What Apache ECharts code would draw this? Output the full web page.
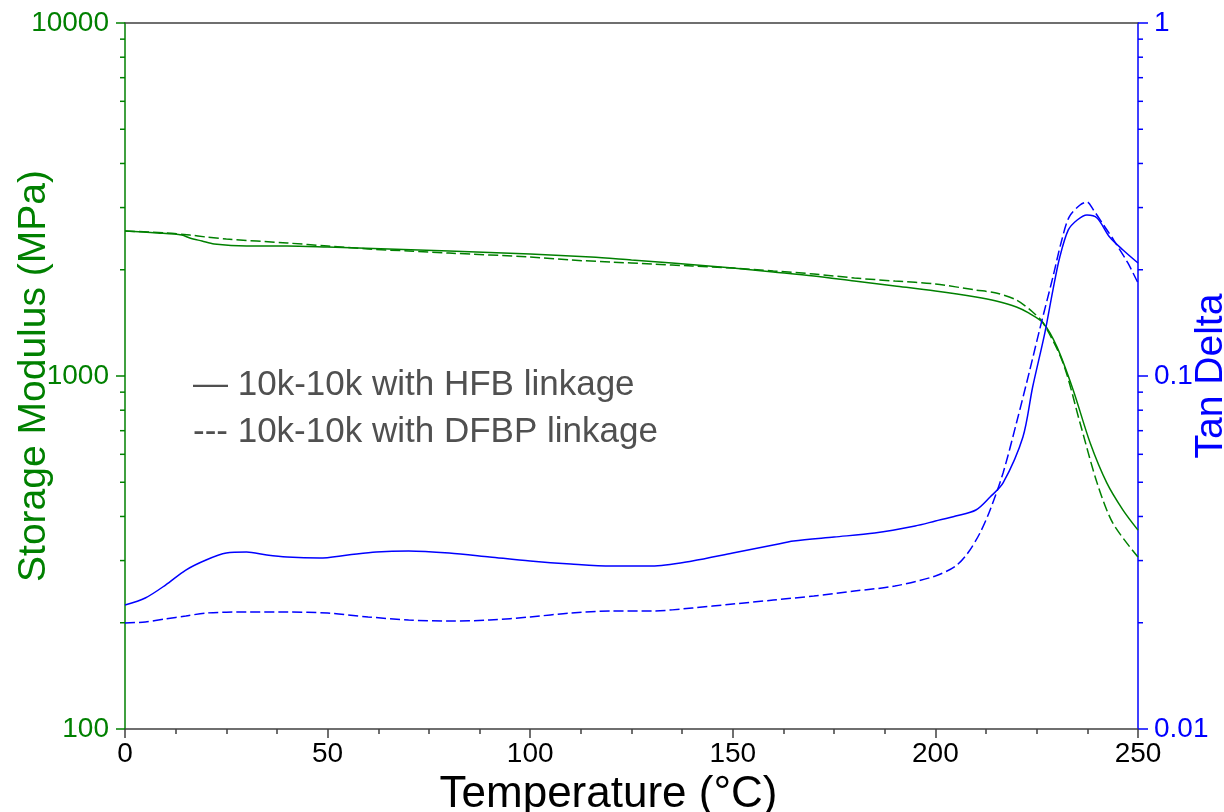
<!DOCTYPE html>
<html>
<head>
<meta charset="utf-8">
<script src="https://cdn.jsdelivr.net/npm/echarts@6/dist/echarts.min.js"></script>
<style>html,body{margin:0;padding:0;background:#fff}#c{width:1224px;height:812px}</style>
</head>
<body>
<div id="c"></div>
<script>
// ---- data ----
// Storage modulus, 10k-10k with HFB linkage (solid)
var hfbModT   = [0, 8, 14, 16, 19, 22, 30, 40, 50, 65, 80, 100, 115, 125, 135, 150, 160, 170, 180, 190, 200, 210, 215, 220, 223, 226.6, 230, 234, 238.2, 242.3, 246.3, 250];
var hfbModVal = [2576, 2542, 2508, 2460, 2412, 2365, 2335, 2335, 2319, 2290, 2260, 2216, 2173, 2131, 2090, 2022, 1971, 1920, 1858, 1799, 1741, 1674, 1631, 1569, 1509, 1413, 1209, 913, 646, 498, 417, 366];
// Storage modulus, 10k-10k with DFBP linkage (dashed)
var dfbpModT   = [0, 10, 16, 20, 25, 40, 50, 60, 70, 80, 100, 110, 120, 130, 140, 150, 160, 170, 180, 190, 200, 210, 215, 220, 224, 226.6, 231.5, 235.7, 239.9, 243.8, 250];
var dfbpModVal = [2576, 2542, 2508, 2476, 2444, 2381, 2335, 2290, 2260, 2230, 2173, 2131, 2103, 2076, 2049, 2022, 1984, 1945, 1895, 1858, 1822, 1752, 1718, 1642, 1518, 1413, 1089, 736, 498, 383, 307];
// Tan delta, HFB (solid)
var hfbTanT   = [0, 5, 10, 15, 20, 25, 30, 35, 40, 48, 55, 62, 70, 80, 90, 100, 110, 120, 130, 140, 150, 160, 165, 175, 185, 195, 200, 205, 210, 213.5, 216.7, 221.6, 224, 227, 229, 230.7, 232.8, 235, 237.4, 239.9, 243, 246.3, 250];
var hfbTanVal = [0.02245, 0.0235, 0.02557, 0.0282, 0.03012, 0.03151, 0.03172, 0.03111, 0.03071, 0.03051, 0.03111, 0.03172, 0.03193, 0.03151, 0.03071, 0.02992, 0.02934, 0.02896, 0.02896, 0.02992, 0.03151, 0.0332, 0.03408, 0.03498, 0.03591, 0.03759, 0.03883, 0.04012, 0.04173, 0.04543, 0.04977, 0.06718, 0.09307, 0.1323, 0.1752, 0.2173, 0.2593, 0.2767, 0.2858, 0.2803, 0.2476, 0.2275, 0.209];
// Tan delta, DFBP (dashed)
var dfbpTanT   = [0, 5, 10, 15, 20, 30, 40, 50, 60, 70, 80, 90, 100, 110, 120, 130, 140, 150, 160, 170, 180, 190, 200, 205, 208, 211, 213.5, 216.7, 220, 223.3, 225.7, 229, 231, 233, 235.7, 237.4, 239, 241.5, 244, 247.5, 250];
var dfbpTanVal = [0.01997, 0.0201, 0.0205, 0.02089, 0.02131, 0.02145, 0.02145, 0.02131, 0.02077, 0.02036, 0.02022, 0.02036, 0.02077, 0.02131, 0.02159, 0.02159, 0.02202, 0.0226, 0.02319, 0.0238, 0.02459, 0.02541, 0.02713, 0.02896, 0.03151, 0.03591, 0.04173, 0.05312, 0.07359, 0.104, 0.135, 0.1907, 0.2381, 0.282, 0.3051, 0.3111, 0.2954, 0.2678, 0.2427, 0.209, 0.1834];
// log minor tick values
var leftMinorTicks  = [200, 300, 400, 500, 600, 700, 800, 900, 2000, 3000, 4000, 5000, 6000, 7000, 8000, 9000];
var rightMinorTicks = [0.02, 0.03, 0.04, 0.05, 0.06, 0.07, 0.08, 0.09, 0.2, 0.3, 0.4, 0.5, 0.6, 0.7, 0.8, 0.9];
var legendLines = ['\u2014 10k-10k with HFB linkage', '--- 10k-10k with DFBP linkage'];

function zip(a, b) { return a.map(function (t, i) { return [t, b[i]]; }); }

var GREEN = '#008000', BLUE = '#0000ff', FONT = '"Liberation Sans", Arial, sans-serif';

function minorTickSeries(vals, yIdx, xVal, dir) {
  return {
    type: 'custom', xAxisIndex: 0, yAxisIndex: yIdx, silent: true, clip: false,
    data: vals.map(function (v) { return [xVal, v]; }),
    encode: { x: 0, y: 1 },
    renderItem: function (params, api) {
      var p = api.coord([api.value(0), api.value(1)]);
      return { type: 'line', shape: { x1: p[0], y1: p[1], x2: p[0] + dir * 5, y2: p[1] },
        style: { stroke: yIdx === 0 ? GREEN : BLUE, lineWidth: 1.5 } };
    }
  };
}
function fmt(v) { return String(+(+v).toPrecision(6)); }

var chart = echarts.init(document.getElementById('c'), null, { renderer: 'canvas' });
chart.setOption({
  animation: false,
  backgroundColor: '#ffffff',
  textStyle: { fontFamily: FONT },
  grid: { left: 125, right: 86, top: 23, bottom: 83, containLabel: false, outerBoundsMode: 'none' },
  xAxis: [{
    type: 'value', min: 0, max: 250, interval: 50,
    name: 'Temperature (\u00B0C)', nameLocation: 'middle', nameGap: 44, nameMoveOverlap: false,
    nameTextStyle: { fontSize: 44, color: '#000', fontFamily: FONT, padding: [0, 46, 0, 0] },
    axisLine: { show: true, onZero: false, lineStyle: { color: '#404040', width: 1.5 } },
    axisTick: { show: true, inside: false, length: 9, lineStyle: { color: '#404040', width: 1.5 } },
    minorTick: { show: true, splitNumber: 4, length: 5, lineStyle: { color: '#404040', width: 1.5 } },
    axisLabel: { fontSize: 28, color: '#000', margin: 11, fontFamily: FONT },
    splitLine: { show: false }
  }, {
    type: 'value', min: 0, max: 250, position: 'top',
    axisLine: { show: true, onZero: false, lineStyle: { color: '#404040', width: 1.5 } },
    axisTick: { show: false }, axisLabel: { show: false }, splitLine: { show: false }
  }],
  yAxis: [{
    type: 'log', logBase: 10, min: 100, max: 10000, position: 'left',
    name: 'Storage Modulus (MPa)', nameLocation: 'middle', nameGap: 71, nameRotate: 90, nameMoveOverlap: false,
    nameTextStyle: { fontSize: 39, color: GREEN, fontFamily: FONT },
    axisLine: { show: true, onZero: false, lineStyle: { color: GREEN, width: 1.5 } },
    axisTick: { show: true, inside: false, length: 9, lineStyle: { color: GREEN, width: 1.5 } },
    axisLabel: { fontSize: 28, color: GREEN, margin: 16, fontFamily: FONT, formatter: fmt },
    splitLine: { show: false }
  }, {
    type: 'log', logBase: 10, min: 0.01, max: 1, position: 'right',
    name: 'Tan Delta', nameLocation: 'middle', nameGap: 54, nameRotate: 90, nameMoveOverlap: false,
    nameTextStyle: { fontSize: 39, color: BLUE, fontFamily: FONT },
    axisLine: { show: true, onZero: false, lineStyle: { color: BLUE, width: 1.5 } },
    axisTick: { show: true, inside: false, length: 10, lineStyle: { color: BLUE, width: 1.5 } },
    axisLabel: { fontSize: 28, color: BLUE, margin: 16, fontFamily: FONT, formatter: fmt },
    splitLine: { show: false }
  }],
  graphic: [
    { type: 'text', left: 193, top: 368, style: { text: legendLines[0], fontSize: 35, fontFamily: FONT, fill: '#505050' } },
    { type: 'text', left: 193, top: 415, style: { text: legendLines[1], fontSize: 35, fontFamily: FONT, fill: '#505050' } }
  ],
  series: [
    { name: 'HFB modulus', type: 'line', yAxisIndex: 0, showSymbol: false, smooth: 0.3, data: zip(hfbModT, hfbModVal),
      lineStyle: { color: GREEN, width: 1.5, type: 'solid' }, itemStyle: { color: GREEN } },
    { name: 'DFBP modulus', type: 'line', yAxisIndex: 0, showSymbol: false, smooth: 0.3, data: zip(dfbpModT, dfbpModVal),
      lineStyle: { color: GREEN, width: 1.5, type: [10, 4] }, itemStyle: { color: GREEN } },
    { name: 'HFB tan delta', type: 'line', yAxisIndex: 1, showSymbol: false, smooth: 0.3, data: zip(hfbTanT, hfbTanVal),
      lineStyle: { color: BLUE, width: 1.5, type: 'solid' }, itemStyle: { color: BLUE } },
    { name: 'DFBP tan delta', type: 'line', yAxisIndex: 1, showSymbol: false, smooth: 0.3, data: zip(dfbpTanT, dfbpTanVal),
      lineStyle: { color: BLUE, width: 1.5, type: [10, 4] }, itemStyle: { color: BLUE } },
    minorTickSeries(leftMinorTicks, 0, 0, -1),
    minorTickSeries(rightMinorTicks, 1, 250, 1)
  ]
});
</script>
</body>
</html>
